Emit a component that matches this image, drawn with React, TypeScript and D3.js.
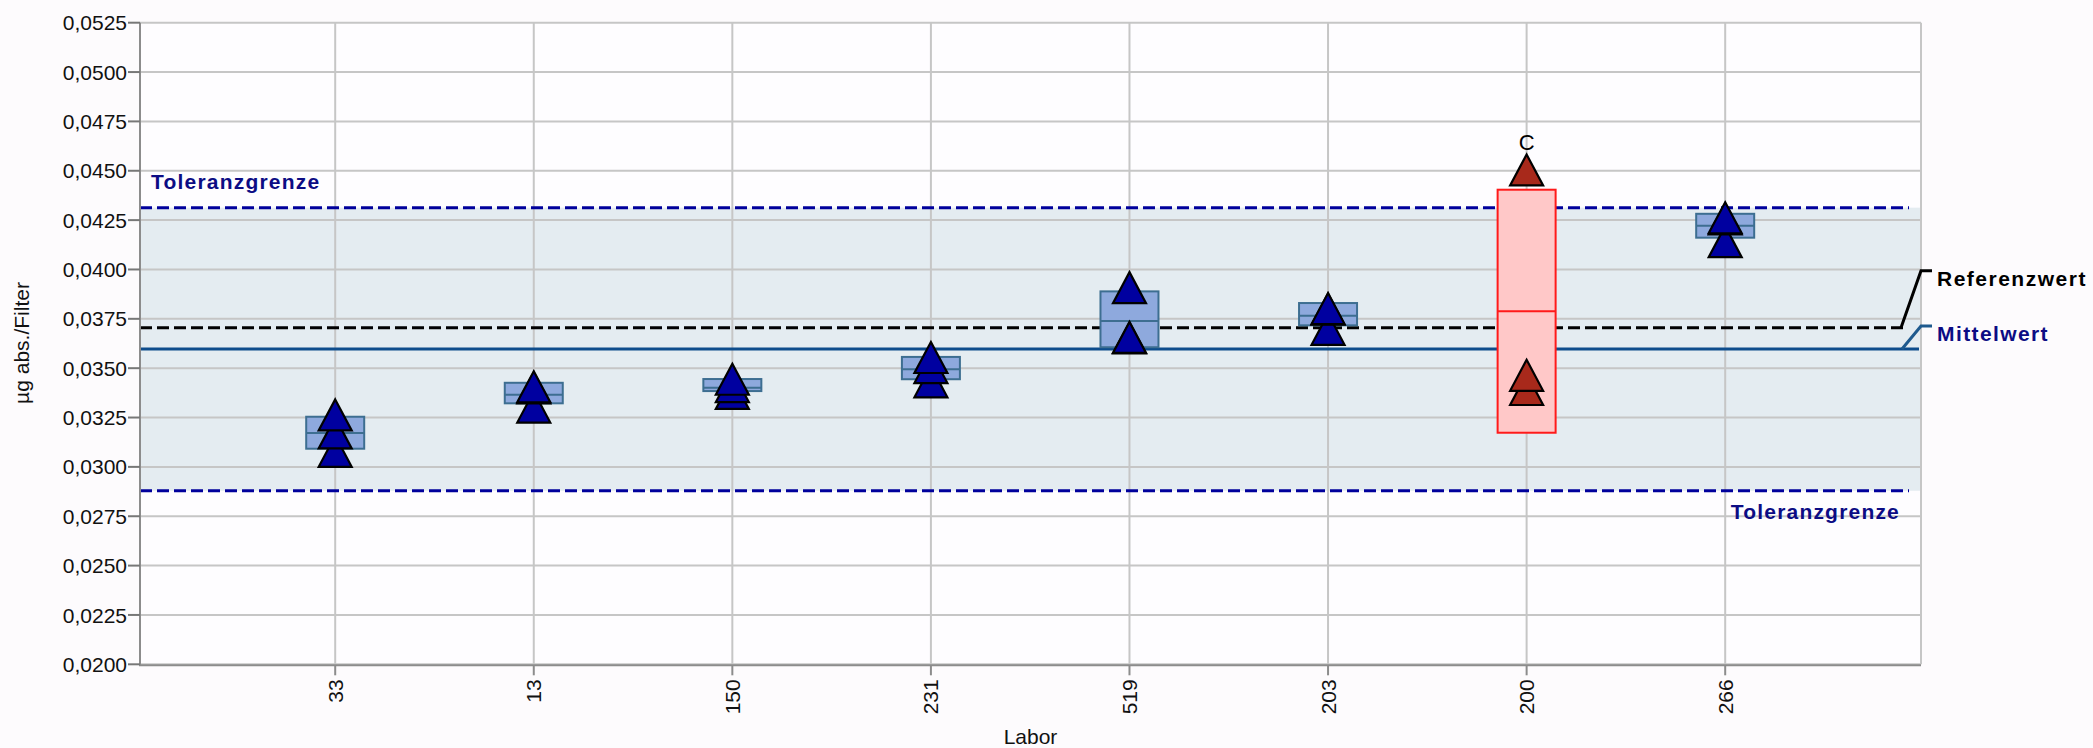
import React from "react";
import * as d3 from "d3";

// ---------- data ----------
const labs = ["33", "13", "150", "231", "519", "203", "200", "266"];
const rep1 = [0.03263, 0.03406, 0.03444, 0.03554, 0.03908, 0.03799, 0.04504, 0.04256];
const rep2 = [0.03172, 0.03303, 0.03407, 0.03503, 0.03653, 0.03697, 0.03464, 0.04141];
const rep3 = [0.03079, 0.03400, 0.03372, 0.03431, 0.03656, 0.03802, 0.03392, 0.04262];
const boxLow = [0.03092, 0.03322, 0.03384, 0.03444, 0.03606, 0.03717, 0.03173, 0.04161];
const boxMid = [0.03172, 0.03366, 0.03401, 0.03494, 0.03739, 0.03766, 0.03788, 0.04222];
const boxHigh = [0.03254, 0.03426, 0.03445, 0.03557, 0.03889, 0.03830, 0.04404, 0.04282];
const flags = ["", "", "", "", "", "", "C", ""];
const outlier = [false, false, false, false, false, false, true, false];
const yTickValues = [
  0.02, 0.0225, 0.025, 0.0275, 0.03, 0.0325, 0.035, 0.0375, 0.04, 0.0425, 0.045,
  0.0475, 0.05, 0.0525,
];
const upperTol = 0.04313;
const lowerTol = 0.02879;
const refValue = 0.03705;
const meanValue = 0.03597;
const yTitle = "µg abs./Filter";
const xTitle = "Labor";
const tolLabel = "Toleranzgrenze";
const refLabel = "Referenzwert";
const meanLabel = "Mittelwert";

// ---------- layout ----------
const W = 2093;
const H = 748;
const plotL = 140;
const plotR = 1921;
const plotT = 22.7;
const plotB = 664.3;
const firstOffset = 195.2;
const step = 198.57;
const triW = 33;
const triH = 31;
const boxW = 58;

const FONT = "'Liberation Sans', Arial, sans-serif";

const locale = d3.formatLocale({
  decimal: ",",
  thousands: ".",
  grouping: [3],
  currency: ["", "€"],
});
const fmt = locale.format(".4f");

export default function App() {
  const y = d3.scaleLinear().domain([0.02, 0.0525]).range([plotB, plotT]);
  const x = d3
    .scalePoint<string>()
    .domain(labs)
    .range([plotL + firstOffset, plotL + firstOffset + step * (labs.length - 1)]);

  const tri = (cx: number, cy: number) => {
    const p = d3.path();
    p.moveTo(cx, cy - triH / 2);
    p.lineTo(cx + triW / 2, cy + triH / 2);
    p.lineTo(cx - triW / 2, cy + triH / 2);
    p.closePath();
    return p.toString();
  };

  const yRef = y(refValue);
  const yMean = y(meanValue);

  return (
    <svg
      width={W}
      height={H}
      style={{ position: "absolute", left: 0, top: 0, display: "block", background: "#fdfbfd" }}
      fontFamily={FONT}
    >
      {/* plot background */}
      <rect x={plotL} y={plotT} width={plotR - plotL} height={plotB - plotT} fill="#fefdff" />
      {/* tolerance band */}
      <rect
        x={plotL}
        y={y(upperTol)}
        width={plotR - plotL}
        height={y(lowerTol) - y(upperTol)}
        fill="#e4ecf1"
      />
      {/* horizontal grid */}
      {yTickValues.map((v) => (
        <line
          key={"hg" + v}
          x1={plotL}
          x2={plotR}
          y1={y(v)}
          y2={y(v)}
          stroke="#c6c6c6"
          strokeWidth={2}
        />
      ))}
      {/* vertical grid */}
      {labs.map((l) => (
        <line
          key={"vg" + l}
          x1={x(l)}
          x2={x(l)}
          y1={plotT}
          y2={plotB}
          stroke="#c6c6c6"
          strokeWidth={2}
        />
      ))}
      <line x1={plotR} x2={plotR} y1={plotT} y2={plotB} stroke="#c6c6c6" strokeWidth={2} />

      {/* reference lines */}
      <line
        x1={plotL}
        x2={1909}
        y1={y(upperTol)}
        y2={y(upperTol)}
        stroke="#00009c"
        strokeWidth={3}
        strokeDasharray="12 5"
      />
      <line
        x1={plotL}
        x2={1909}
        y1={y(lowerTol)}
        y2={y(lowerTol)}
        stroke="#00009c"
        strokeWidth={3}
        strokeDasharray="12 5"
      />
      <line
        x1={plotL}
        x2={1905}
        y1={yRef}
        y2={yRef}
        stroke="#000000"
        strokeWidth={3}
        strokeDasharray="12 5"
      />
      <line x1={plotL} x2={1919} y1={yMean} y2={yMean} stroke="#0d4c8c" strokeWidth={3} />

      {/* boxes */}
      {labs.map((l, i) => {
        const cx = x(l) as number;
        const red = outlier[i];
        const stroke = red ? "#ff1a1a" : "#3d6e91";
        return (
          <g key={"box" + l}>
            <rect
              x={cx - boxW / 2}
              y={y(boxHigh[i])}
              width={boxW}
              height={y(boxLow[i]) - y(boxHigh[i])}
              fill={red ? "#ffc8c8" : "#8ea9dd"}
              stroke={stroke}
              strokeWidth={2}
            />
            <line
              x1={cx - boxW / 2}
              x2={cx + boxW / 2}
              y1={y(boxMid[i])}
              y2={y(boxMid[i])}
              stroke={stroke}
              strokeWidth={2}
            />
          </g>
        );
      })}

      {/* triangles, drawn lowest first */}
      {labs.map((l, i) => {
        const cx = x(l) as number;
        const vals = [rep1[i], rep2[i], rep3[i]].sort((a, b) => a - b);
        const fill = outlier[i] ? "#a8291b" : "#0000a0";
        return (
          <g key={"tri" + l}>
            {vals.map((v, j) => (
              <path
                key={j}
                d={tri(cx, y(v))}
                fill={fill}
                stroke="#000"
                strokeWidth={2.2}
                strokeLinejoin="miter"
              />
            ))}
            {flags[i] ? (
              <text
                x={cx}
                y={y(vals[2]) - triH / 2 - 4}
                textAnchor="middle"
                fontSize={22}
                fill="#000"
              >
                {flags[i]}
              </text>
            ) : null}
          </g>
        );
      })}

      {/* axes */}
      <line x1={plotL} x2={plotL} y1={plotT} y2={plotB + 1} stroke="#8c8c8c" strokeWidth={2} />
      <line x1={plotL - 1} x2={plotR} y1={plotB + 1} y2={plotB + 1} stroke="#8c8c8c" strokeWidth={2} />
      {yTickValues.map((v) => (
        <g key={"yt" + v}>
          <line x1={plotL - 12} x2={plotL} y1={y(v)} y2={y(v)} stroke="#777" strokeWidth={2} />
          <text
            x={plotL - 13}
            y={y(v)}
            dy="0.36em"
            textAnchor="end"
            fontSize={21}
            fill="#111"
          >
            {fmt(v)}
          </text>
        </g>
      ))}
      {labs.map((l) => (
        <g key={"xt" + l}>
          <line
            x1={x(l)}
            x2={x(l)}
            y1={plotB + 1}
            y2={plotB + 11}
            stroke="#8c8c8c"
            strokeWidth={2}
          />
          <text
            transform={`translate(${x(l)},${plotB + 15}) rotate(-90)`}
            dy="0.36em"
            textAnchor="end"
            fontSize={21}
            fill="#111"
          >
            {l}
          </text>
        </g>
      ))}
      <text
        x={(plotL + plotR) / 2}
        y={744}
        textAnchor="middle"
        fontSize={21}
        fill="#111"
      >
        {xTitle}
      </text>
      <text
        transform={`translate(29,343) rotate(-90)`}
        textAnchor="middle"
        fontSize={21}
        fill="#111"
      >
        {yTitle}
      </text>

      {/* annotations */}
      <text
        x={151}
        y={y(upperTol) - 19}
        fontSize={21}
        fontWeight="bold"
        letterSpacing={1.2}
        fill="#0c0c84"
      >
        {tolLabel}
      </text>
      <text
        x={1900}
        y={y(lowerTol) + 28}
        textAnchor="end"
        fontSize={21}
        fontWeight="bold"
        letterSpacing={1.2}
        fill="#0c0c84"
      >
        {tolLabel}
      </text>
      <polyline
        points={`1901,${yRef} 1921,${yRef - 57} 1932,${yRef - 57}`}
        fill="none"
        stroke="#000"
        strokeWidth={3}
      />
      <polyline
        points={`1902,${yMean} 1921,${yMean - 23} 1932,${yMean - 23}`}
        fill="none"
        stroke="#1f5a8e"
        strokeWidth={3}
      />
      <text
        x={1937}
        y={yRef - 42}
        fontSize={21}
        fontWeight="bold"
        letterSpacing={1.5}
        fill="#000"
      >
        {refLabel}
      </text>
      <text
        x={1937}
        y={yMean - 8}
        fontSize={21}
        fontWeight="bold"
        letterSpacing={1.4}
        fill="#0c0c84"
      >
        {meanLabel}
      </text>
    </svg>
  );
}
